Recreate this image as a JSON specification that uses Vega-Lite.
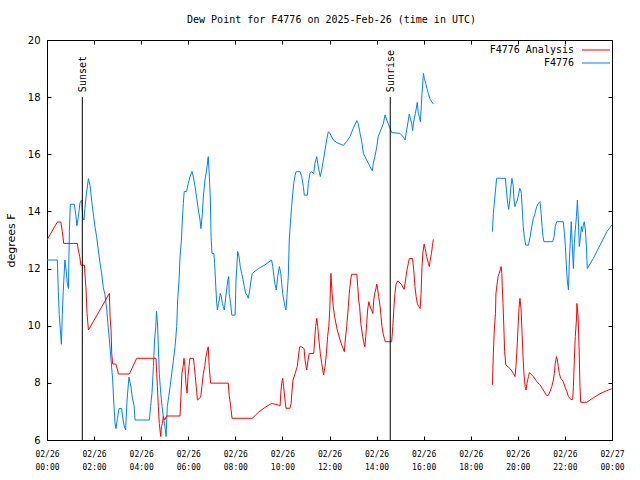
{
  "$schema": "https://vega.github.io/schema/vega-lite/v6.json",
  "width": 565,
  "height": 400,
  "autosize": {"type": "none"},
  "padding": {"left": 47, "top": 40, "right": 28, "bottom": 40},
  "background": "#ffffff",
  "title": {"text": "Dew Point for F4776 on 2025-Feb-26 (time in UTC)", "font": "DejaVu Sans Mono", "fontSize": 10, "fontWeight": "normal", "color": "#000000", "offset": 10, "anchor": "middle", "frame": "group", "dx": 2},
  "config": {
    "view": {"stroke": "#000000", "strokeWidth": 1},
    "axis": {"domain": false, "ticks": false, "grid": true, "gridColor": "#000000", "gridOpacity": 1, "gridWidth": 1, "labelColor": "#000000", "titleColor": "#000000", "labelOverlap": false, "labelFlush": false}
  },
  "datasets": {
    "obs": [
      {"s":"F4776","g":1,"t":0,"v":12.3},{"s":"F4776","g":1,"t":0.44,"v":12.3},{"s":"F4776","g":1,"t":0.48,"v":11.2},{"s":"F4776","g":1,"t":0.52,"v":10.4},{"s":"F4776","g":1,"t":0.58,"v":9.7},{"s":"F4776","g":1,"t":0.61,"v":9.35},{"s":"F4776","g":1,"t":0.65,"v":10.4},{"s":"F4776","g":1,"t":0.69,"v":11.2},{"s":"F4776","g":1,"t":0.76,"v":12.3},{"s":"F4776","g":1,"t":0.82,"v":11.9},{"s":"F4776","g":1,"t":0.86,"v":11.5},{"s":"F4776","g":1,"t":0.91,"v":11.3},{"s":"F4776","g":1,"t":0.95,"v":13.3},{"s":"F4776","g":1,"t":0.99,"v":14.25},{"s":"F4776","g":1,"t":1.16,"v":14.25},{"s":"F4776","g":1,"t":1.22,"v":13.9},{"s":"F4776","g":1,"t":1.27,"v":13.5},{"s":"F4776","g":1,"t":1.33,"v":13.8},{"s":"F4776","g":1,"t":1.4,"v":14.3},{"s":"F4776","g":1,"t":1.47,"v":14.4},{"s":"F4776","g":1,"t":1.52,"v":13.8},{"s":"F4776","g":1,"t":1.57,"v":13.7},{"s":"F4776","g":1,"t":1.61,"v":14.1},{"s":"F4776","g":1,"t":1.67,"v":14.6},{"s":"F4776","g":1,"t":1.76,"v":15.15},{"s":"F4776","g":1,"t":1.83,"v":14.9},{"s":"F4776","g":1,"t":1.9,"v":14.35},{"s":"F4776","g":1,"t":1.97,"v":13.9},{"s":"F4776","g":1,"t":2.04,"v":13.45},{"s":"F4776","g":1,"t":2.11,"v":13.1},{"s":"F4776","g":1,"t":2.18,"v":12.65},{"s":"F4776","g":1,"t":2.25,"v":12.2},{"s":"F4776","g":1,"t":2.32,"v":11.85},{"s":"F4776","g":1,"t":2.39,"v":11.35},{"s":"F4776","g":1,"t":2.46,"v":11.1},{"s":"F4776","g":1,"t":2.54,"v":10.55},{"s":"F4776","g":1,"t":2.6,"v":9.95},{"s":"F4776","g":1,"t":2.65,"v":9.5},{"s":"F4776","g":1,"t":2.72,"v":8.8},{"s":"F4776","g":1,"t":2.79,"v":8.1},{"s":"F4776","g":1,"t":2.83,"v":7.4},{"s":"F4776","g":1,"t":2.89,"v":6.6},{"s":"F4776","g":1,"t":2.93,"v":6.4},{"s":"F4776","g":1,"t":2.99,"v":6.75},{"s":"F4776","g":1,"t":3.06,"v":7.1},{"s":"F4776","g":1,"t":3.17,"v":7.1},{"s":"F4776","g":1,"t":3.23,"v":6.7},{"s":"F4776","g":1,"t":3.29,"v":6.45},{"s":"F4776","g":1,"t":3.34,"v":6.35},{"s":"F4776","g":1,"t":3.4,"v":7.4},{"s":"F4776","g":1,"t":3.48,"v":8.2},{"s":"F4776","g":1,"t":3.57,"v":7.85},{"s":"F4776","g":1,"t":3.62,"v":7.5},{"s":"F4776","g":1,"t":3.7,"v":7.2},{"s":"F4776","g":1,"t":3.74,"v":6.7},{"s":"F4776","g":1,"t":4.35,"v":6.7},{"s":"F4776","g":1,"t":4.4,"v":7.17},{"s":"F4776","g":1,"t":4.46,"v":7.64},{"s":"F4776","g":1,"t":4.52,"v":8.57},{"s":"F4776","g":1,"t":4.57,"v":9.5},{"s":"F4776","g":1,"t":4.62,"v":9.97},{"s":"F4776","g":1,"t":4.65,"v":10.5},{"s":"F4776","g":1,"t":4.69,"v":10.14},{"s":"F4776","g":1,"t":4.73,"v":9.26},{"s":"F4776","g":1,"t":4.77,"v":8.34},{"s":"F4776","g":1,"t":4.83,"v":7.64},{"s":"F4776","g":1,"t":4.89,"v":7.17},{"s":"F4776","g":1,"t":4.94,"v":6.82},{"s":"F4776","g":1,"t":5.01,"v":6.47},{"s":"F4776","g":1,"t":5.06,"v":6.12},{"s":"F4776","g":1,"t":5.11,"v":7.17},{"s":"F4776","g":1,"t":5.17,"v":7.52},{"s":"F4776","g":1,"t":5.23,"v":7.87},{"s":"F4776","g":1,"t":5.3,"v":8.34},{"s":"F4776","g":1,"t":5.37,"v":8.8},{"s":"F4776","g":1,"t":5.44,"v":9.27},{"s":"F4776","g":1,"t":5.51,"v":9.97},{"s":"F4776","g":1,"t":5.55,"v":10.9},{"s":"F4776","g":1,"t":5.61,"v":11.6},{"s":"F4776","g":1,"t":5.65,"v":12.4},{"s":"F4776","g":1,"t":5.71,"v":13.0},{"s":"F4776","g":1,"t":5.75,"v":13.7},{"s":"F4776","g":1,"t":5.79,"v":14.28},{"s":"F4776","g":1,"t":5.83,"v":14.7},{"s":"F4776","g":1,"t":5.93,"v":14.7},{"s":"F4776","g":1,"t":6.0,"v":14.98},{"s":"F4776","g":1,"t":6.07,"v":15.2},{"s":"F4776","g":1,"t":6.16,"v":15.4},{"s":"F4776","g":1,"t":6.22,"v":15.2},{"s":"F4776","g":1,"t":6.29,"v":14.87},{"s":"F4776","g":1,"t":6.36,"v":14.46},{"s":"F4776","g":1,"t":6.43,"v":14.05},{"s":"F4776","g":1,"t":6.5,"v":13.7},{"s":"F4776","g":1,"t":6.54,"v":13.4},{"s":"F4776","g":1,"t":6.6,"v":13.93},{"s":"F4776","g":1,"t":6.64,"v":14.5},{"s":"F4776","g":1,"t":6.71,"v":15.1},{"s":"F4776","g":1,"t":6.78,"v":15.45},{"s":"F4776","g":1,"t":6.83,"v":15.8},{"s":"F4776","g":1,"t":6.85,"v":15.92},{"s":"F4776","g":1,"t":6.89,"v":15.35},{"s":"F4776","g":1,"t":6.94,"v":14.4},{"s":"F4776","g":1,"t":6.97,"v":13.1},{"s":"F4776","g":1,"t":7.01,"v":12.53},{"s":"F4776","g":1,"t":7.09,"v":12.53},{"s":"F4776","g":1,"t":7.12,"v":12.18},{"s":"F4776","g":1,"t":7.17,"v":11.37},{"s":"F4776","g":1,"t":7.21,"v":10.78},{"s":"F4776","g":1,"t":7.24,"v":10.55},{"s":"F4776","g":1,"t":7.28,"v":10.78},{"s":"F4776","g":1,"t":7.32,"v":10.9},{"s":"F4776","g":1,"t":7.36,"v":11.13},{"s":"F4776","g":1,"t":7.41,"v":11.0},{"s":"F4776","g":1,"t":7.45,"v":10.78},{"s":"F4776","g":1,"t":7.49,"v":10.67},{"s":"F4776","g":1,"t":7.53,"v":10.55},{"s":"F4776","g":1,"t":7.58,"v":10.9},{"s":"F4776","g":1,"t":7.63,"v":11.25},{"s":"F4776","g":1,"t":7.68,"v":11.6},{"s":"F4776","g":1,"t":7.72,"v":11.72},{"s":"F4776","g":1,"t":7.74,"v":11.13},{"s":"F4776","g":1,"t":7.8,"v":10.78},{"s":"F4776","g":1,"t":7.85,"v":10.37},{"s":"F4776","g":1,"t":7.99,"v":10.37},{"s":"F4776","g":1,"t":8.03,"v":11.6},{"s":"F4776","g":1,"t":8.1,"v":12.6},{"s":"F4776","g":1,"t":8.16,"v":12.4},{"s":"F4776","g":1,"t":8.21,"v":12.07},{"s":"F4776","g":1,"t":8.27,"v":11.83},{"s":"F4776","g":1,"t":8.33,"v":11.6},{"s":"F4776","g":1,"t":8.38,"v":11.37},{"s":"F4776","g":1,"t":8.44,"v":11.13},{"s":"F4776","g":1,"t":8.5,"v":11.07},{"s":"F4776","g":1,"t":8.55,"v":10.96},{"s":"F4776","g":1,"t":8.61,"v":11.25},{"s":"F4776","g":1,"t":8.67,"v":11.6},{"s":"F4776","g":1,"t":8.72,"v":11.83},{"s":"F4776","g":1,"t":8.98,"v":12.0},{"s":"F4776","g":1,"t":9.26,"v":12.13},{"s":"F4776","g":1,"t":9.54,"v":12.3},{"s":"F4776","g":1,"t":9.59,"v":12.07},{"s":"F4776","g":1,"t":9.64,"v":11.72},{"s":"F4776","g":1,"t":9.69,"v":11.43},{"s":"F4776","g":1,"t":9.74,"v":11.25},{"s":"F4776","g":1,"t":9.8,"v":11.72},{"s":"F4776","g":1,"t":9.87,"v":12.07},{"s":"F4776","g":1,"t":9.93,"v":11.83},{"s":"F4776","g":1,"t":9.97,"v":11.48},{"s":"F4776","g":1,"t":10.01,"v":11.13},{"s":"F4776","g":1,"t":10.07,"v":10.84},{"s":"F4776","g":1,"t":10.11,"v":10.67},{"s":"F4776","g":1,"t":10.15,"v":10.55},{"s":"F4776","g":1,"t":10.2,"v":11.13},{"s":"F4776","g":1,"t":10.25,"v":11.72},{"s":"F4776","g":1,"t":10.29,"v":13.0},{"s":"F4776","g":1,"t":10.34,"v":13.58},{"s":"F4776","g":1,"t":10.39,"v":14.17},{"s":"F4776","g":1,"t":10.44,"v":14.63},{"s":"F4776","g":1,"t":10.48,"v":14.98},{"s":"F4776","g":1,"t":10.54,"v":15.27},{"s":"F4776","g":1,"t":10.58,"v":15.39},{"s":"F4776","g":1,"t":10.75,"v":15.39},{"s":"F4776","g":1,"t":10.82,"v":15.22},{"s":"F4776","g":1,"t":10.89,"v":14.87},{"s":"F4776","g":1,"t":10.93,"v":14.57},{"s":"F4776","g":1,"t":11.06,"v":14.57},{"s":"F4776","g":1,"t":11.1,"v":14.98},{"s":"F4776","g":1,"t":11.17,"v":15.33},{"s":"F4776","g":1,"t":11.24,"v":15.39},{"s":"F4776","g":1,"t":11.33,"v":15.33},{"s":"F4776","g":1,"t":11.38,"v":15.68},{"s":"F4776","g":1,"t":11.46,"v":15.92},{"s":"F4776","g":1,"t":11.5,"v":15.68},{"s":"F4776","g":1,"t":11.55,"v":15.45},{"s":"F4776","g":1,"t":11.61,"v":15.22},{"s":"F4776","g":1,"t":11.67,"v":15.45},{"s":"F4776","g":1,"t":11.74,"v":15.8},{"s":"F4776","g":1,"t":11.81,"v":16.15},{"s":"F4776","g":1,"t":11.88,"v":16.5},{"s":"F4776","g":1,"t":11.95,"v":16.79},{"s":"F4776","g":1,"t":12.02,"v":16.73},{"s":"F4776","g":1,"t":12.16,"v":16.5},{"s":"F4776","g":1,"t":12.31,"v":16.41},{"s":"F4776","g":1,"t":12.45,"v":16.36},{"s":"F4776","g":1,"t":12.59,"v":16.31},{"s":"F4776","g":1,"t":12.73,"v":16.45},{"s":"F4776","g":1,"t":12.87,"v":16.62},{"s":"F4776","g":1,"t":13.01,"v":16.91},{"s":"F4776","g":1,"t":13.16,"v":17.18},{"s":"F4776","g":1,"t":13.22,"v":17.08},{"s":"F4776","g":1,"t":13.3,"v":16.73},{"s":"F4776","g":1,"t":13.37,"v":16.44},{"s":"F4776","g":1,"t":13.44,"v":16.03},{"s":"F4776","g":1,"t":13.58,"v":15.8},{"s":"F4776","g":1,"t":13.72,"v":15.57},{"s":"F4776","g":1,"t":13.82,"v":15.42},{"s":"F4776","g":1,"t":13.86,"v":15.68},{"s":"F4776","g":1,"t":13.93,"v":15.92},{"s":"F4776","g":1,"t":14.01,"v":16.27},{"s":"F4776","g":1,"t":14.07,"v":16.62},{"s":"F4776","g":1,"t":14.15,"v":16.79},{"s":"F4776","g":1,"t":14.29,"v":17.08},{"s":"F4776","g":1,"t":14.36,"v":17.38},{"s":"F4776","g":1,"t":14.43,"v":17.2},{"s":"F4776","g":1,"t":14.57,"v":16.91},{"s":"F4776","g":1,"t":14.64,"v":16.76},{"s":"F4776","g":1,"t":15.0,"v":16.73},{"s":"F4776","g":1,"t":15.14,"v":16.6},{"s":"F4776","g":1,"t":15.21,"v":16.5},{"s":"F4776","g":1,"t":15.28,"v":16.85},{"s":"F4776","g":1,"t":15.35,"v":17.2},{"s":"F4776","g":1,"t":15.39,"v":17.41},{"s":"F4776","g":1,"t":15.45,"v":17.2},{"s":"F4776","g":1,"t":15.49,"v":17.08},{"s":"F4776","g":1,"t":15.53,"v":16.83},{"s":"F4776","g":1,"t":15.59,"v":17.2},{"s":"F4776","g":1,"t":15.65,"v":17.43},{"s":"F4776","g":1,"t":15.73,"v":17.82},{"s":"F4776","g":1,"t":15.77,"v":17.43},{"s":"F4776","g":1,"t":15.82,"v":17.32},{"s":"F4776","g":1,"t":15.86,"v":17.14},{"s":"F4776","g":1,"t":15.89,"v":17.55},{"s":"F4776","g":1,"t":15.93,"v":18.13},{"s":"F4776","g":1,"t":15.99,"v":18.83},{"s":"F4776","g":1,"t":16.03,"v":18.66},{"s":"F4776","g":1,"t":16.09,"v":18.48},{"s":"F4776","g":1,"t":16.14,"v":18.3},{"s":"F4776","g":1,"t":16.2,"v":18.13},{"s":"F4776","g":1,"t":16.27,"v":17.93},{"s":"F4776","g":1,"t":16.41,"v":17.76},
      {"s":"F4776","g":2,"t":18.92,"v":13.29},{"s":"F4776","g":2,"t":18.96,"v":13.93},{"s":"F4776","g":2,"t":19.02,"v":14.46},{"s":"F4776","g":2,"t":19.1,"v":15.16},{"s":"F4776","g":2,"t":19.47,"v":15.16},{"s":"F4776","g":2,"t":19.53,"v":14.63},{"s":"F4776","g":2,"t":19.57,"v":14.28},{"s":"F4776","g":2,"t":19.61,"v":14.07},{"s":"F4776","g":2,"t":19.66,"v":14.4},{"s":"F4776","g":2,"t":19.7,"v":14.81},{"s":"F4776","g":2,"t":19.75,"v":15.16},{"s":"F4776","g":2,"t":19.8,"v":14.93},{"s":"F4776","g":2,"t":19.84,"v":14.4},{"s":"F4776","g":2,"t":19.88,"v":14.17},{"s":"F4776","g":2,"t":19.92,"v":14.28},{"s":"F4776","g":2,"t":19.98,"v":14.4},{"s":"F4776","g":2,"t":20.04,"v":14.63},{"s":"F4776","g":2,"t":20.08,"v":14.81},{"s":"F4776","g":2,"t":20.12,"v":14.75},{"s":"F4776","g":2,"t":20.15,"v":14.63},{"s":"F4776","g":2,"t":20.19,"v":14.05},{"s":"F4776","g":2,"t":20.23,"v":13.47},{"s":"F4776","g":2,"t":20.28,"v":13.06},{"s":"F4776","g":2,"t":20.34,"v":12.82},{"s":"F4776","g":2,"t":20.45,"v":12.82},{"s":"F4776","g":2,"t":20.52,"v":13.1},{"s":"F4776","g":2,"t":20.59,"v":13.47},{"s":"F4776","g":2,"t":20.66,"v":13.76},{"s":"F4776","g":2,"t":20.73,"v":13.93},{"s":"F4776","g":2,"t":20.8,"v":14.17},{"s":"F4776","g":2,"t":20.87,"v":14.28},{"s":"F4776","g":2,"t":20.94,"v":14.34},{"s":"F4776","g":2,"t":20.99,"v":13.93},{"s":"F4776","g":2,"t":21.03,"v":13.47},{"s":"F4776","g":2,"t":21.07,"v":13.12},{"s":"F4776","g":2,"t":21.11,"v":12.94},{"s":"F4776","g":2,"t":21.48,"v":12.94},{"s":"F4776","g":2,"t":21.54,"v":13.12},{"s":"F4776","g":2,"t":21.59,"v":13.47},{"s":"F4776","g":2,"t":21.65,"v":13.64},{"s":"F4776","g":2,"t":21.93,"v":13.64},{"s":"F4776","g":2,"t":21.98,"v":13.23},{"s":"F4776","g":2,"t":22.02,"v":12.77},{"s":"F4776","g":2,"t":22.06,"v":12.12},{"s":"F4776","g":2,"t":22.1,"v":11.6},{"s":"F4776","g":2,"t":22.15,"v":11.25},{"s":"F4776","g":2,"t":22.19,"v":12.3},{"s":"F4776","g":2,"t":22.23,"v":13.0},{"s":"F4776","g":2,"t":22.27,"v":13.64},{"s":"F4776","g":2,"t":22.31,"v":12.88},{"s":"F4776","g":2,"t":22.36,"v":12.0},{"s":"F4776","g":2,"t":22.4,"v":12.88},{"s":"F4776","g":2,"t":22.44,"v":13.35},{"s":"F4776","g":2,"t":22.49,"v":13.82},{"s":"F4776","g":2,"t":22.53,"v":14.4},{"s":"F4776","g":2,"t":22.57,"v":13.7},{"s":"F4776","g":2,"t":22.61,"v":12.77},{"s":"F4776","g":2,"t":22.66,"v":13.12},{"s":"F4776","g":2,"t":22.7,"v":13.47},{"s":"F4776","g":2,"t":22.74,"v":13.29},{"s":"F4776","g":2,"t":22.78,"v":13.52},{"s":"F4776","g":2,"t":22.82,"v":13.64},{"s":"F4776","g":2,"t":22.87,"v":13.35},{"s":"F4776","g":2,"t":22.91,"v":12.82},{"s":"F4776","g":2,"t":22.95,"v":12.0},{"s":"F4776","g":2,"t":23.21,"v":12.36},{"s":"F4776","g":2,"t":23.49,"v":12.82},{"s":"F4776","g":2,"t":23.78,"v":13.29},{"s":"F4776","g":2,"t":23.99,"v":13.52},
      {"s":"F4776 Analysis","g":1,"t":0,"v":13.0},{"s":"F4776 Analysis","g":1,"t":0.44,"v":13.63},{"s":"F4776 Analysis","g":1,"t":0.59,"v":13.63},{"s":"F4776 Analysis","g":1,"t":0.65,"v":13.3},{"s":"F4776 Analysis","g":1,"t":0.71,"v":12.88},{"s":"F4776 Analysis","g":1,"t":1.29,"v":12.88},{"s":"F4776 Analysis","g":1,"t":1.33,"v":12.65},{"s":"F4776 Analysis","g":1,"t":1.39,"v":12.42},{"s":"F4776 Analysis","g":1,"t":1.44,"v":12.12},{"s":"F4776 Analysis","g":1,"t":1.59,"v":12.12},{"s":"F4776 Analysis","g":1,"t":1.61,"v":11.83},{"s":"F4776 Analysis","g":1,"t":1.66,"v":11.25},{"s":"F4776 Analysis","g":1,"t":1.7,"v":10.43},{"s":"F4776 Analysis","g":1,"t":1.76,"v":9.85},{"s":"F4776 Analysis","g":1,"t":2.18,"v":10.45},{"s":"F4776 Analysis","g":1,"t":2.65,"v":11.13},{"s":"F4776 Analysis","g":1,"t":2.68,"v":10.3},{"s":"F4776 Analysis","g":1,"t":2.72,"v":9.85},{"s":"F4776 Analysis","g":1,"t":2.75,"v":9.03},{"s":"F4776 Analysis","g":1,"t":2.79,"v":8.66},{"s":"F4776 Analysis","g":1,"t":2.92,"v":8.66},{"s":"F4776 Analysis","g":1,"t":3.0,"v":8.45},{"s":"F4776 Analysis","g":1,"t":3.03,"v":8.31},{"s":"F4776 Analysis","g":1,"t":3.5,"v":8.31},{"s":"F4776 Analysis","g":1,"t":3.81,"v":8.86},{"s":"F4776 Analysis","g":1,"t":4.63,"v":8.86},{"s":"F4776 Analysis","g":1,"t":4.66,"v":8.33},{"s":"F4776 Analysis","g":1,"t":4.69,"v":7.87},{"s":"F4776 Analysis","g":1,"t":4.73,"v":7.17},{"s":"F4776 Analysis","g":1,"t":4.77,"v":6.58},{"s":"F4776 Analysis","g":1,"t":4.83,"v":6.12},{"s":"F4776 Analysis","g":1,"t":4.86,"v":6.47},{"s":"F4776 Analysis","g":1,"t":4.9,"v":6.58},{"s":"F4776 Analysis","g":1,"t":4.94,"v":6.82},{"s":"F4776 Analysis","g":1,"t":5.0,"v":6.7},{"s":"F4776 Analysis","g":1,"t":5.08,"v":6.84},{"s":"F4776 Analysis","g":1,"t":5.65,"v":6.84},{"s":"F4776 Analysis","g":1,"t":5.69,"v":7.52},{"s":"F4776 Analysis","g":1,"t":5.73,"v":8.33},{"s":"F4776 Analysis","g":1,"t":5.78,"v":8.57},{"s":"F4776 Analysis","g":1,"t":5.82,"v":8.86},{"s":"F4776 Analysis","g":1,"t":5.86,"v":8.57},{"s":"F4776 Analysis","g":1,"t":5.9,"v":7.99},{"s":"F4776 Analysis","g":1,"t":5.95,"v":7.64},{"s":"F4776 Analysis","g":1,"t":5.99,"v":8.22},{"s":"F4776 Analysis","g":1,"t":6.03,"v":8.57},{"s":"F4776 Analysis","g":1,"t":6.07,"v":8.86},{"s":"F4776 Analysis","g":1,"t":6.22,"v":8.86},{"s":"F4776 Analysis","g":1,"t":6.26,"v":8.57},{"s":"F4776 Analysis","g":1,"t":6.3,"v":8.22},{"s":"F4776 Analysis","g":1,"t":6.34,"v":7.87},{"s":"F4776 Analysis","g":1,"t":6.39,"v":7.4},{"s":"F4776 Analysis","g":1,"t":6.53,"v":7.5},{"s":"F4776 Analysis","g":1,"t":6.58,"v":7.87},{"s":"F4776 Analysis","g":1,"t":6.64,"v":8.33},{"s":"F4776 Analysis","g":1,"t":6.7,"v":8.57},{"s":"F4776 Analysis","g":1,"t":6.75,"v":8.91},{"s":"F4776 Analysis","g":1,"t":6.81,"v":9.15},{"s":"F4776 Analysis","g":1,"t":6.85,"v":9.26},{"s":"F4776 Analysis","g":1,"t":6.89,"v":8.57},{"s":"F4776 Analysis","g":1,"t":6.95,"v":7.99},{"s":"F4776 Analysis","g":1,"t":7.7,"v":7.99},{"s":"F4776 Analysis","g":1,"t":7.74,"v":7.55},{"s":"F4776 Analysis","g":1,"t":7.8,"v":7.2},{"s":"F4776 Analysis","g":1,"t":7.86,"v":6.76},{"s":"F4776 Analysis","g":1,"t":8.72,"v":6.76},{"s":"F4776 Analysis","g":1,"t":8.98,"v":6.97},{"s":"F4776 Analysis","g":1,"t":9.26,"v":7.14},{"s":"F4776 Analysis","g":1,"t":9.54,"v":7.28},{"s":"F4776 Analysis","g":1,"t":9.8,"v":7.23},{"s":"F4776 Analysis","g":1,"t":9.9,"v":7.19},{"s":"F4776 Analysis","g":1,"t":9.93,"v":7.64},{"s":"F4776 Analysis","g":1,"t":9.97,"v":7.99},{"s":"F4776 Analysis","g":1,"t":10.01,"v":8.16},{"s":"F4776 Analysis","g":1,"t":10.05,"v":7.87},{"s":"F4776 Analysis","g":1,"t":10.11,"v":7.4},{"s":"F4776 Analysis","g":1,"t":10.15,"v":7.11},{"s":"F4776 Analysis","g":1,"t":10.32,"v":7.11},{"s":"F4776 Analysis","g":1,"t":10.37,"v":7.28},{"s":"F4776 Analysis","g":1,"t":10.41,"v":7.75},{"s":"F4776 Analysis","g":1,"t":10.45,"v":8.1},{"s":"F4776 Analysis","g":1,"t":10.54,"v":8.33},{"s":"F4776 Analysis","g":1,"t":10.63,"v":8.57},{"s":"F4776 Analysis","g":1,"t":10.73,"v":9.26},{"s":"F4776 Analysis","g":1,"t":10.82,"v":9.26},{"s":"F4776 Analysis","g":1,"t":10.92,"v":9.2},{"s":"F4776 Analysis","g":1,"t":10.96,"v":8.8},{"s":"F4776 Analysis","g":1,"t":11.03,"v":8.45},{"s":"F4776 Analysis","g":1,"t":11.09,"v":8.8},{"s":"F4776 Analysis","g":1,"t":11.14,"v":9.03},{"s":"F4776 Analysis","g":1,"t":11.33,"v":9.03},{"s":"F4776 Analysis","g":1,"t":11.37,"v":9.5},{"s":"F4776 Analysis","g":1,"t":11.41,"v":9.97},{"s":"F4776 Analysis","g":1,"t":11.46,"v":10.26},{"s":"F4776 Analysis","g":1,"t":11.5,"v":9.97},{"s":"F4776 Analysis","g":1,"t":11.55,"v":9.5},{"s":"F4776 Analysis","g":1,"t":11.61,"v":9.03},{"s":"F4776 Analysis","g":1,"t":11.67,"v":8.68},{"s":"F4776 Analysis","g":1,"t":11.75,"v":8.28},{"s":"F4776 Analysis","g":1,"t":11.81,"v":8.57},{"s":"F4776 Analysis","g":1,"t":11.87,"v":9.03},{"s":"F4776 Analysis","g":1,"t":11.92,"v":9.62},{"s":"F4776 Analysis","g":1,"t":11.97,"v":9.97},{"s":"F4776 Analysis","g":1,"t":12.01,"v":10.55},{"s":"F4776 Analysis","g":1,"t":12.06,"v":11.83},{"s":"F4776 Analysis","g":1,"t":12.11,"v":11.13},{"s":"F4776 Analysis","g":1,"t":12.16,"v":10.67},{"s":"F4776 Analysis","g":1,"t":12.22,"v":10.31},{"s":"F4776 Analysis","g":1,"t":12.33,"v":9.85},{"s":"F4776 Analysis","g":1,"t":12.45,"v":9.5},{"s":"F4776 Analysis","g":1,"t":12.52,"v":9.32},{"s":"F4776 Analysis","g":1,"t":12.63,"v":9.09},{"s":"F4776 Analysis","g":1,"t":12.67,"v":9.5},{"s":"F4776 Analysis","g":1,"t":12.73,"v":9.97},{"s":"F4776 Analysis","g":1,"t":12.8,"v":10.67},{"s":"F4776 Analysis","g":1,"t":12.84,"v":11.13},{"s":"F4776 Analysis","g":1,"t":12.9,"v":11.6},{"s":"F4776 Analysis","g":1,"t":12.94,"v":11.8},{"s":"F4776 Analysis","g":1,"t":13.16,"v":11.8},{"s":"F4776 Analysis","g":1,"t":13.2,"v":11.37},{"s":"F4776 Analysis","g":1,"t":13.24,"v":10.9},{"s":"F4776 Analysis","g":1,"t":13.28,"v":10.67},{"s":"F4776 Analysis","g":1,"t":13.33,"v":10.08},{"s":"F4776 Analysis","g":1,"t":13.37,"v":9.85},{"s":"F4776 Analysis","g":1,"t":13.41,"v":9.62},{"s":"F4776 Analysis","g":1,"t":13.45,"v":9.44},{"s":"F4776 Analysis","g":1,"t":13.5,"v":9.26},{"s":"F4776 Analysis","g":1,"t":13.54,"v":9.62},{"s":"F4776 Analysis","g":1,"t":13.58,"v":10.08},{"s":"F4776 Analysis","g":1,"t":13.62,"v":10.55},{"s":"F4776 Analysis","g":1,"t":13.67,"v":10.84},{"s":"F4776 Analysis","g":1,"t":13.75,"v":10.6},{"s":"F4776 Analysis","g":1,"t":13.79,"v":10.55},{"s":"F4776 Analysis","g":1,"t":13.84,"v":10.43},{"s":"F4776 Analysis","g":1,"t":13.88,"v":10.9},{"s":"F4776 Analysis","g":1,"t":13.92,"v":11.13},{"s":"F4776 Analysis","g":1,"t":13.96,"v":11.25},{"s":"F4776 Analysis","g":1,"t":14.01,"v":11.46},{"s":"F4776 Analysis","g":1,"t":14.05,"v":11.25},{"s":"F4776 Analysis","g":1,"t":14.09,"v":11.02},{"s":"F4776 Analysis","g":1,"t":14.15,"v":10.67},{"s":"F4776 Analysis","g":1,"t":14.19,"v":10.31},{"s":"F4776 Analysis","g":1,"t":14.23,"v":9.97},{"s":"F4776 Analysis","g":1,"t":14.29,"v":9.68},{"s":"F4776 Analysis","g":1,"t":14.33,"v":9.56},{"s":"F4776 Analysis","g":1,"t":14.37,"v":9.44},{"s":"F4776 Analysis","g":1,"t":14.64,"v":9.44},{"s":"F4776 Analysis","g":1,"t":14.69,"v":9.97},{"s":"F4776 Analysis","g":1,"t":14.73,"v":10.55},{"s":"F4776 Analysis","g":1,"t":14.78,"v":11.13},{"s":"F4776 Analysis","g":1,"t":14.83,"v":11.46},{"s":"F4776 Analysis","g":1,"t":14.9,"v":11.57},{"s":"F4776 Analysis","g":1,"t":15.04,"v":11.46},{"s":"F4776 Analysis","g":1,"t":15.17,"v":11.27},{"s":"F4776 Analysis","g":1,"t":15.21,"v":11.48},{"s":"F4776 Analysis","g":1,"t":15.25,"v":11.72},{"s":"F4776 Analysis","g":1,"t":15.29,"v":11.95},{"s":"F4776 Analysis","g":1,"t":15.35,"v":12.18},{"s":"F4776 Analysis","g":1,"t":15.39,"v":12.35},{"s":"F4776 Analysis","g":1,"t":15.53,"v":12.35},{"s":"F4776 Analysis","g":1,"t":15.59,"v":11.83},{"s":"F4776 Analysis","g":1,"t":15.63,"v":11.37},{"s":"F4776 Analysis","g":1,"t":15.68,"v":11.02},{"s":"F4776 Analysis","g":1,"t":15.73,"v":10.78},{"s":"F4776 Analysis","g":1,"t":15.79,"v":10.67},{"s":"F4776 Analysis","g":1,"t":15.85,"v":10.6},{"s":"F4776 Analysis","g":1,"t":15.89,"v":11.13},{"s":"F4776 Analysis","g":1,"t":15.93,"v":12.07},{"s":"F4776 Analysis","g":1,"t":15.97,"v":12.58},{"s":"F4776 Analysis","g":1,"t":16.02,"v":12.86},{"s":"F4776 Analysis","g":1,"t":16.06,"v":12.7},{"s":"F4776 Analysis","g":1,"t":16.13,"v":12.42},{"s":"F4776 Analysis","g":1,"t":16.2,"v":12.18},{"s":"F4776 Analysis","g":1,"t":16.24,"v":12.07},{"s":"F4776 Analysis","g":1,"t":16.28,"v":12.3},{"s":"F4776 Analysis","g":1,"t":16.33,"v":12.53},{"s":"F4776 Analysis","g":1,"t":16.37,"v":12.77},{"s":"F4776 Analysis","g":1,"t":16.41,"v":13.02},
      {"s":"F4776 Analysis","g":2,"t":18.92,"v":7.93},{"s":"F4776 Analysis","g":2,"t":18.96,"v":9.03},{"s":"F4776 Analysis","g":2,"t":19.0,"v":9.85},{"s":"F4776 Analysis","g":2,"t":19.05,"v":10.43},{"s":"F4776 Analysis","g":2,"t":19.07,"v":11.13},{"s":"F4776 Analysis","g":2,"t":19.16,"v":11.72},{"s":"F4776 Analysis","g":2,"t":19.21,"v":11.83},{"s":"F4776 Analysis","g":2,"t":19.29,"v":12.07},{"s":"F4776 Analysis","g":2,"t":19.32,"v":11.83},{"s":"F4776 Analysis","g":2,"t":19.34,"v":11.37},{"s":"F4776 Analysis","g":2,"t":19.37,"v":10.78},{"s":"F4776 Analysis","g":2,"t":19.41,"v":9.85},{"s":"F4776 Analysis","g":2,"t":19.44,"v":9.09},{"s":"F4776 Analysis","g":2,"t":19.49,"v":8.63},{"s":"F4776 Analysis","g":2,"t":19.67,"v":8.5},{"s":"F4776 Analysis","g":2,"t":19.81,"v":8.33},{"s":"F4776 Analysis","g":2,"t":19.88,"v":8.22},{"s":"F4776 Analysis","g":2,"t":19.92,"v":8.57},{"s":"F4776 Analysis","g":2,"t":19.97,"v":9.26},{"s":"F4776 Analysis","g":2,"t":20.01,"v":9.97},{"s":"F4776 Analysis","g":2,"t":20.05,"v":10.6},{"s":"F4776 Analysis","g":2,"t":20.09,"v":10.96},{"s":"F4776 Analysis","g":2,"t":20.14,"v":10.55},{"s":"F4776 Analysis","g":2,"t":20.18,"v":9.74},{"s":"F4776 Analysis","g":2,"t":20.22,"v":8.92},{"s":"F4776 Analysis","g":2,"t":20.26,"v":8.33},{"s":"F4776 Analysis","g":2,"t":20.31,"v":7.87},{"s":"F4776 Analysis","g":2,"t":20.35,"v":7.75},{"s":"F4776 Analysis","g":2,"t":20.39,"v":7.99},{"s":"F4776 Analysis","g":2,"t":20.45,"v":8.22},{"s":"F4776 Analysis","g":2,"t":20.49,"v":8.36},{"s":"F4776 Analysis","g":2,"t":20.66,"v":8.22},{"s":"F4776 Analysis","g":2,"t":20.8,"v":8.05},{"s":"F4776 Analysis","g":2,"t":20.94,"v":7.93},{"s":"F4776 Analysis","g":2,"t":21.08,"v":7.75},{"s":"F4776 Analysis","g":2,"t":21.23,"v":7.55},{"s":"F4776 Analysis","g":2,"t":21.3,"v":7.58},{"s":"F4776 Analysis","g":2,"t":21.37,"v":7.7},{"s":"F4776 Analysis","g":2,"t":21.44,"v":7.87},{"s":"F4776 Analysis","g":2,"t":21.51,"v":8.1},{"s":"F4776 Analysis","g":2,"t":21.55,"v":8.33},{"s":"F4776 Analysis","g":2,"t":21.59,"v":8.68},{"s":"F4776 Analysis","g":2,"t":21.64,"v":8.92},{"s":"F4776 Analysis","g":2,"t":21.68,"v":8.8},{"s":"F4776 Analysis","g":2,"t":21.72,"v":8.57},{"s":"F4776 Analysis","g":2,"t":21.76,"v":8.33},{"s":"F4776 Analysis","g":2,"t":21.82,"v":8.16},{"s":"F4776 Analysis","g":2,"t":21.93,"v":8.05},{"s":"F4776 Analysis","g":2,"t":22.0,"v":7.87},{"s":"F4776 Analysis","g":2,"t":22.08,"v":7.7},{"s":"F4776 Analysis","g":2,"t":22.15,"v":7.52},{"s":"F4776 Analysis","g":2,"t":22.25,"v":7.42},{"s":"F4776 Analysis","g":2,"t":22.33,"v":7.42},{"s":"F4776 Analysis","g":2,"t":22.36,"v":7.87},{"s":"F4776 Analysis","g":2,"t":22.4,"v":8.8},{"s":"F4776 Analysis","g":2,"t":22.44,"v":9.62},{"s":"F4776 Analysis","g":2,"t":22.49,"v":10.2},{"s":"F4776 Analysis","g":2,"t":22.51,"v":10.78},{"s":"F4776 Analysis","g":2,"t":22.56,"v":10.31},{"s":"F4776 Analysis","g":2,"t":22.6,"v":9.27},{"s":"F4776 Analysis","g":2,"t":22.64,"v":7.87},{"s":"F4776 Analysis","g":2,"t":22.67,"v":7.32},{"s":"F4776 Analysis","g":2,"t":22.93,"v":7.32},{"s":"F4776 Analysis","g":2,"t":23.21,"v":7.48},{"s":"F4776 Analysis","g":2,"t":23.49,"v":7.62},{"s":"F4776 Analysis","g":2,"t":23.78,"v":7.73},{"s":"F4776 Analysis","g":2,"t":23.99,"v":7.79}
    ],
    "sun": [
      {"name": "Sunset", "t": 1.5, "lo": 6, "hi": 18},
      {"name": "Sunrise", "t": 14.58, "lo": 6, "hi": 18}
    ]
  },
  "layer": [
    {
      "data": {"name": "obs"},
      "mark": {"type": "line", "strokeWidth": 1, "clip": true},
      "encoding": {
        "x": {"field": "t", "type": "quantitative", "scale": {"domain": [0, 24], "nice": false, "zero": false},
          "axis": {"orient": "bottom", "title": null, "values": [0,1,2,3,4,5,6,7,8,9,10,11,12,13,14,15,16,17,18,19,20,21,22,23,24], "gridDash": [4, 392], "labelPadding": 10, "labelFont": "DejaVu Sans Mono", "labelFontSize": 8, "labelLineHeight": 13,
            "labelExpr": "datum.value % 2 == 0 ? [datum.value < 24 ? '02/26' : '02/27', (datum.value % 24 < 10 ? '0' : '') + (datum.value % 24) + ':00'] : ''"}},
        "y": {"field": "v", "type": "quantitative", "scale": {"domain": [6, 20], "nice": false, "zero": false},
          "axis": {"orient": "left", "title": "degrees F", "values": [6,8,10,12,14,16,18,20], "gridDash": [4, 557], "labelPadding": 7, "labelFont": "DejaVu Sans", "labelFontSize": 10, "titleFont": "DejaVu Sans", "titleFontSize": 11, "titleFontWeight": "normal", "titlePadding": 11}},
        "color": {"field": "s", "type": "nominal", "scale": {"domain": ["F4776 Analysis", "F4776"], "range": ["#ff0000", "#0080ff"]},
          "legend": {"orient": "none", "legendX": 543.5, "legendY": 4.5, "title": null, "symbolType": "M-2.8,0H2.8", "symbolSize": 100, "symbolStrokeWidth": 1, "symbolFillColor": "transparent", "labelAlign": "right", "labelOffset": -27.5, "labelFont": "DejaVu Sans Mono", "labelFontSize": 10, "labelColor": "#000000", "labelLimit": 300, "rowPadding": 2}},
        "detail": {"field": "g", "type": "nominal"}
      }
    },
    {
      "data": {"name": "sun"},
      "mark": {"type": "rule", "color": "#000000", "strokeWidth": 1},
      "encoding": {
        "x": {"field": "t", "type": "quantitative"},
        "y": {"field": "lo", "type": "quantitative"},
        "y2": {"field": "hi"}
      }
    },
    {
      "data": {"name": "sun"},
      "mark": {"type": "text", "angle": 270, "align": "left", "baseline": "middle", "dx": 5, "dy": 1, "font": "DejaVu Sans Mono", "fontSize": 10, "color": "#000000"},
      "encoding": {
        "x": {"field": "t", "type": "quantitative"},
        "y": {"field": "hi", "type": "quantitative"},
        "text": {"field": "name"}
      }
    }
  ]
}
